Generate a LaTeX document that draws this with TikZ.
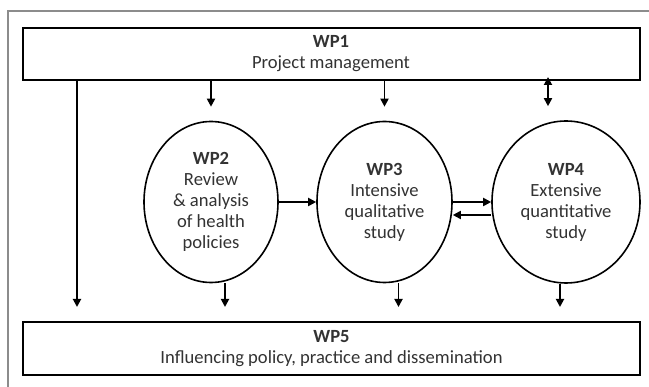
\documentclass[tikz,border=0pt]{standalone}
\usepackage{fontspec}
\setmainfont{Carlito}
\usepackage{tikz}
\usetikzlibrary{arrows.meta}
\usetikzlibrary{positioning, shapes.geometric}
\tikzset{
wp box/.style = { rectangle, draw = black, line width = 2pt, fill = white, inner sep = 0pt, minimum width = 617pt, minimum height = 52pt, align = center, text = black!80, font = \fontsize{18.6}{21}\selectfont },
wp oval/.style = { ellipse, draw = black, line width = 1.6pt, fill = white, inner sep = 0pt, minimum height = 161pt, align = center, text = black!80, font = \fontsize{18.6}{21}\selectfont },
flow/.style = { draw = black, line width = 1.8pt, -{Triangle[length = 8pt, width = 8pt]} },
flow both/.style = { flow, {Triangle[length = 8pt, width = 8pt]}-{Triangle[length = 8pt, width = 8pt]} },
}

\begin{document}
\begin{tikzpicture}[x = 1pt, y = -1pt]
    \useasboundingbox (0, 0) rectangle (649, 387);
    \draw[black!45, line width = 1.2pt] (649, 11) -- (8, 11) -- (8, 387);
    \node[wp box] (wp1) at (331, 54) {\textbf{WP1}\\Project management};
    \node[wp box, minimum height = 53pt] (wp5) at (331.5, 348.5) {\textbf{WP5}\\Influencing policy, practice and dissemination};
    \node[wp oval, minimum width = 134pt] (wp2) at (211, 202) {\textbf{WP2}\\Review\\\& analysis\\of health\\policies};
    \node[wp oval, minimum width = 135pt] (wp3) at (384.5, 202) {\textbf{WP3}\\Intensive\\qualitative\\study};
    \node[wp oval, minimum width = 148pt, minimum height = 162pt] (wp4) at (566, 202) {\textbf{WP4}\\Extensive\\quantitative\\study};
    \coordinate (side) at (77, 0);
    \coordinate (wp4 top) at (548, 0);
    % from WP1
    \draw[flow, shorten > = 14pt] (wp1.south -| side) -- (wp5.north -| side);
    \draw[flow, shorten > = 14pt] (wp1.south -| wp2.north) -- (wp2.north);
    \draw[flow, shorten > = 14pt] (wp1.south -| wp3.north) -- (wp3.north);
    \draw[flow both, shorten > = 14pt, shorten < = -4pt] (wp1.south -| wp4 top) -- (wp4.north -| wp4 top);
    % between the studies
    \draw[flow] (wp2.east) -- (wp3.west);
    \draw[flow] (wp3.east) -- (wp4.west);
    \draw[flow] ([yshift = -13pt]wp4.west) -- ([yshift = -13pt]wp3.east);
    % to WP5
    \draw[flow, shorten > = 14pt] ([xshift = 14pt]wp2.south) -- ([xshift = 14pt]wp2.south |- wp5.north);
    \draw[flow, shorten > = 14pt] ([xshift = 14pt]wp3.south) -- ([xshift = 14pt]wp3.south |- wp5.north);
    \draw[flow, shorten > = 14pt] ([xshift = -6pt]wp4.south) -- ([xshift = -6pt]wp4.south |- wp5.north);
  \end{tikzpicture}
\end{document}
